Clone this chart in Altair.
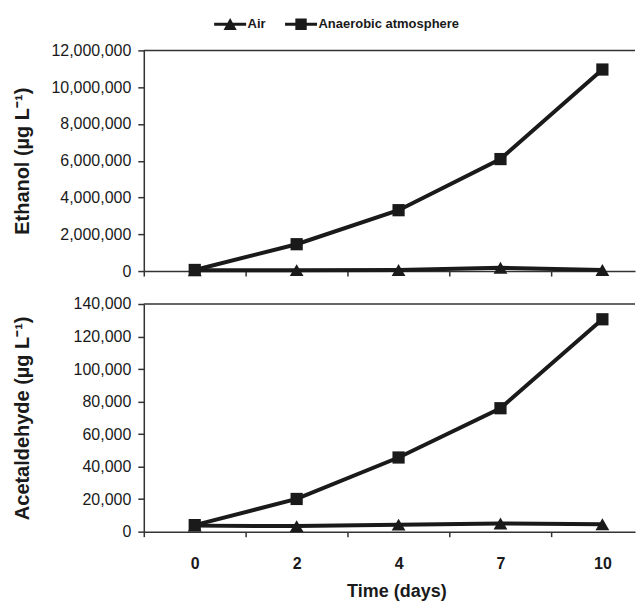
import altair as alt
import pandas as pd

# ---- data ----
days = ["0", "2", "4", "7", "10"]
series = ["Air", "Anaerobic atmosphere"]
ethanol_air = [40000, 50000, 60000, 180000, 60000]
ethanol_anaerobic = [60000, 1460000, 3310000, 6090000, 10960000]
acet_air = [3700, 3400, 4300, 5000, 4500]
acet_anaerobic = [4000, 20100, 45600, 75900, 130600]

INK = "#1a1a1a"
FONT = "Liberation Sans"
W = 492
XMAX = 4.32
STEP = W / (XMAX + 0.5)


def frame(air, anaer):
    rows = []
    for i, d in enumerate(days):
        rows.append({"idx": i, "day": d, "series": series[0], "value": air[i]})
        rows.append({"idx": i, "day": d, "series": series[1], "value": anaer[i]})
    return pd.DataFrame(rows)


label_list = "[" + ",".join("'" + d + "'" for d in days) + "]"


def x_axis(show_labels):
    kw = dict(
        values=[i - 0.5 for i in range(len(days))],
        tickSize=5,
        tickWidth=1.5,
        domainWidth=1.5,
        grid=False,
        labelFlush=False,
        labelOverlap=False,
        labelBound=False,
    )
    if show_labels:
        kw.update(
            labels=True,
            labelExpr=label_list + "[round(datum.value + 0.5)]",
            labelOffset=STEP / 2,
            labelFontWeight="bold",
            labelFontSize=16,
            labelPadding=19,
            title="Time (days)",
            titleFontSize=18,
            titleFontWeight="bold",
            titleX=253,
            titleY=60,
            titleBaseline="middle",
        )
    else:
        kw.update(labels=False, title=None)
    return alt.Axis(**kw)


def panel(df, ymax, ystep, ytitle, h, show_x_labels, with_legend):
    xscale = alt.Scale(domain=[-0.5, XMAX], nice=False, zero=False)
    yscale = alt.Scale(domain=[0, ymax], nice=False)
    yaxis = alt.Axis(values=list(range(0, ymax + 1, ystep)), format=",d",
                     tickSize=6, tickWidth=1.5, domainWidth=1.5, labelPadding=7,
                     labelFontSize=16, grid=False, labelOverlap=False,
                     labelBound=False, labelFlush=False,
                     title=ytitle, titleFontSize=20, titleFontWeight="bold",
                     titleX=-111, titleY=h / 2, titleAngle=270,
                     titleBaseline="bottom")
    xenc = alt.X("idx:Q", scale=xscale, axis=x_axis(show_x_labels))
    yenc = alt.Y("value:Q", scale=yscale, axis=yaxis)
    base = alt.Chart(df)
    line = base.mark_line(color=INK, strokeWidth=4).encode(x=xenc, y=yenc, detail="series:N")
    tri = base.transform_filter(alt.datum.series == series[0]).mark_point(
        shape="triangle-up", filled=True, color=INK, opacity=1, size=190
    ).encode(x=xenc, y=yenc)
    sq = base.transform_filter(alt.datum.series == series[1]).mark_point(
        shape="square", filled=True, color=INK, opacity=1, size=150
    ).encode(x=xenc, y=yenc)
    top = alt.Chart(pd.DataFrame({"value": [ymax]})).mark_rule(
        color="#333", strokeWidth=1.5).encode(y=yenc)
    layers = [line, tri, sq, top]
    if with_legend:
        path_air = "M-2.67,-0.25H2.67V0.25H-2.67Z M-1.1,0.95L0,-1.05L1.1,0.95Z"
        path_sq = "M-2.67,-0.25H2.67V0.25H-2.67Z M-0.95,-0.95H0.95V0.95H-0.95Z"
        leg = base.transform_filter("false").mark_point(filled=True, color=INK, opacity=1).encode(
            shape=alt.Shape("series:N",
                            scale=alt.Scale(domain=series, range=[path_air, path_sq]),
                            legend=alt.Legend(title=None, orient="none", direction="horizontal",
                                              legendX=80, legendY=-33, padding=0,
                                              symbolSize=144, symbolFillColor=INK,
                                              symbolStrokeWidth=0, symbolOpacity=1,
                                              labelOffset=11, columnPadding=18,
                                              labelFont=FONT, labelFontSize=13,
                                              labelFontWeight="bold", labelColor=INK)))
        layers.append(leg)
    return alt.layer(*layers).properties(width=W, height=h)


top_panel = panel(frame(ethanol_air, ethanol_anaerobic), 12000000, 2000000,
                  "Ethanol (µg L⁻¹)", 221, False, True)
bottom_panel = panel(frame(acet_air, acet_anaerobic), 140000, 20000,
                     "Acetaldehyde (µg L⁻¹)", 228, True, False)

chart = alt.vconcat(top_panel, bottom_panel, spacing=17).properties(
    padding={"left": 5, "top": 9, "right": 0, "bottom": 0}
).configure_view(stroke=None).configure_axis(
    labelFont=FONT, titleFont=FONT, labelColor=INK, titleColor=INK,
    domainColor="#333", tickColor="#333"
).configure_legend(labelFont=FONT)

chart.save("out.html", embed_options={"renderer": "svg", "actions": False})
